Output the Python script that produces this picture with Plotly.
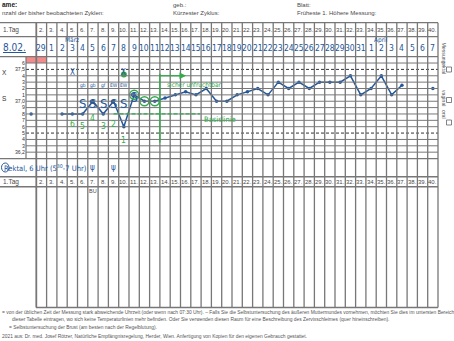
import plotly.graph_objects as go

W, H = 454, 341

# ---------------- data ----------------
days = list(range(1, 41))
# basal body temperature per cycle day (°C); None = no reading
temps = [36.8, None, None, 36.8, 36.8, 36.8, 37.0, 36.8, 37.0, 36.6,
         37.1, 37.0, 37.0, 37.05, 37.1, 37.15, 37.1, 37.2, 37.0, 37.0,
         37.1, 37.15, 37.2, 37.1, 37.3, 37.2, 37.3, 37.2, 37.3, 37.3,
         37.3, 37.4, 37.1, 37.2, 37.4, 37.1, 37.25, None, None, 37.2]

day_labels = ["1.Tag"] + [f"{d}." for d in range(2, 41)]
date_labels = (["8.02.", "29"] + [str(d) for d in range(1, 32)]
               + [str(d) for d in range(1, 8)])
month_labels = {5: "März", 35: "April"}

temp_ticks = [37.6, 37.5, 37.4, 37.3, 37.2, 37.1, 37.0, 36.9, 36.8,
              36.7, 36.6, 36.5, 36.4, 36.3, 36.2]
temp_ticktext = ["6", "37,5", "4", "3", "2", "1", "37,0", "9", "8",
                 "7", "6", "5", "4", "3", "36,2"]

mucus_days = [6, 7, 8, 9, 10, 11]
mucus_notes = ["gb", "gb", "gf", "EW", "EW", ""]
count_days = [5, 6, 7, 8, 9, 10]
count_labels = ["6", "5", "4", "3", "2", "1"]
higher_days = [11, 12, 13]
cross_days = [5, 10]
breast_days = [7, 9]
baseline_temp = 36.8

# ---------------- geometry helpers ----------------
COL0, CW = 26.0, 10.3          # left edge of day-1 column, column width (px)
T_REF, Y_REF, PX_PER_DEG = 37.5, 69.4, 63.67


def dx(p):   # pixel x -> day axis
    return 0.5 + (p - COL0) / CW


def py(p):   # pixel y -> paper
    return 1 - p / H


def pxp(p):  # pixel x -> paper
    return p / W


x_range = [dx(0), dx(W)]
y_range = [T_REF - (H - Y_REF) / PX_PER_DEG, T_REF + Y_REF / PX_PER_DEG]
RIGHT = COL0 + 40 * CW

GRID = "#777777"
INK = "#24579b"
GREEN = "#33aa4c"
PRINT = "#4a4a4a"
HAND = "Liberation Sans Narrow, DejaVu Sans Condensed, Arial Narrow, sans-serif"
SANS = "Liberation Sans, Arial, sans-serif"

fig = go.Figure()

shapes = []


def pline(x0, y0, x1, y1, color=GRID, width=1.1, dash=None):
    shapes.append(dict(type="line", xref="paper", yref="paper",
                       x0=pxp(x0), y0=py(y0), x1=pxp(x1), y1=py(y1),
                       line=dict(color=color, width=width, dash=dash)))


# pink field in the top temperature row (days 1-2)
shapes.append(dict(type="rect", xref="x", yref="y", x0=0.5, x1=2.5,
                   y0=37.6, y1=37.7, fillcolor="rgba(240,110,110,0.8)",
                   line=dict(width=0), layer="below"))

# header rows
for yy in (22.7, 36.7):
    pline(0, yy, RIGHT, yy, width=1.2)
# temperature rows
t = 36.1
while t <= 37.71:
    tt = round(t, 1)
    if tt in (37.5, 36.5):
        shapes.append(dict(type="line", xref="x", yref="y", x0=0.5, x1=40.5,
                           y0=tt, y1=tt,
                           line=dict(color="#333", width=1, dash="3px,2px")))
    else:
        x0 = dx(0) if tt in (37.7, 36.1) else 0.5
        shapes.append(dict(type="line", xref="x", yref="y", x0=x0, x1=40.5,
                           y0=tt, y1=tt,
                           line=dict(color=GRID, width=1.3 if tt in (37.7, 36.1) else 1.0)))
    t += 0.1

# lower table
for yy in (176.7, 186.7):
    pline(0, yy, RIGHT, yy, width=1.5)
pline(36, 307.5, RIGHT, 307.5, width=1.6)

# column dividers
for k in range(0, 41):
    xk = 0.5 + k
    if k == 0:
        shapes.append(dict(type="line", xref="x", yref="y", x0=xk, x1=xk,
                           y0=36.1, y1=37.7, line=dict(color=GRID, width=1.2)))
        continue
    shapes.append(dict(type="line", xref="x", yref="paper", x0=xk, x1=xk,
                       y0=py(307.5), y1=py(22.7),
                       line=dict(color=GRID, width=1.8 if k == 1 else 1.3)))

# checkboxes on the right margin
for cy in (69.5, 100, 122.5):
    shapes.append(dict(type="rect", xref="paper", yref="paper",
                       x0=pxp(446.5), x1=pxp(451.5), y0=py(cy + 2.5), y1=py(cy - 2.5),
                       line=dict(color="#666", width=0.8)))

# green markings: baseline, separator and arrow
shapes.append(dict(type="line", xref="x", yref="y", x0=9, x1=dx(200),
                   y0=baseline_temp, y1=baseline_temp,
                   line=dict(color=GREEN, width=1.3, dash="4px,2px")))
shapes.append(dict(type="line", xref="x", yref="y", x0=13.5, x1=13.5,
                   y0=36.35, y1=37.43, line=dict(color=GREEN, width=1.4)))
shapes.append(dict(type="line", xref="x", yref="y", x0=13.5, x1=dx(183),
                   y0=37.4, y1=37.4, line=dict(color=GREEN, width=1.3)))
# circle mark in the "Rektal" row
shapes.append(dict(type="circle", xref="paper", yref="paper",
                   x0=pxp(1.5), x1=pxp(9), y0=py(172), y1=py(163),
                   line=dict(color=INK, width=1)))

# ---------------- traces ----------------
fig.add_trace(go.Scatter(
    x=days, y=temps, mode="lines+markers", connectgaps=False,
    line=dict(color=INK, width=1.5), marker=dict(color=INK, size=3.5),
    hoverinfo="skip"))

fig.add_trace(go.Scatter(
    x=higher_days, y=[temps[d - 1] for d in higher_days], mode="markers",
    marker=dict(symbol="circle-open", size=9, color=GREEN,
                line=dict(color=GREEN, width=1.5)),
    hoverinfo="skip"))

fig.add_trace(go.Scatter(
    x=[cross_days[1]], y=[37.42], mode="markers",
    marker=dict(color=GREEN, size=6), hoverinfo="skip"))

# ---------------- text ----------------
ann = []


def ptext(x, y, text, size=6, color=PRINT, family=SANS, anchor="left", **kw):
    ann.append(dict(xref="paper", yref="paper", x=pxp(x), y=py(y), text=text,
                    showarrow=False, xanchor=anchor, yanchor="middle",
                    font=dict(size=size, color=color, family=family), **kw))


ptext(0, 5, "<b>ame:</b>", size=6.5, color="#222")
ptext(0, 13.5, "nzahl der bisher beobachteten Zyklen:", size=6)
ptext(171, 5, "geb.:", size=6)
ptext(171, 13.5, "Kürzester Zyklus:", size=6)
ptext(295, 5, "Blatt:", size=6)
ptext(295, 13.5, "Früheste 1. Höhere Messung:", size=6)

# day numbers, header and lower table
for i, lab in enumerate(day_labels):
    if i == 0:
        ptext(1, 30, lab, size=6.5)
        ptext(1, 181.7, lab, size=6.5)
    else:
        for yy in (30, 181.7):
            ann.append(dict(xref="x", yref="paper", x=days[i], y=py(yy), text=lab,
                            showarrow=False, xanchor="center", yanchor="middle",
                            font=dict(size=6.0, color=PRINT, family=SANS)))

# handwritten dates
for i, lab in enumerate(date_labels):
    if i == 0:
        ptext(1, 48, "<u>" + lab + "</u>", size=10, color=INK, family=HAND)
    else:
        ann.append(dict(xref="x", yref="paper", x=days[i], y=py(48.5), text=lab,
                        showarrow=False, xanchor="center", yanchor="middle",
                        font=dict(size=8.5, color=INK, family=HAND)))
for d, m in month_labels.items():
    ann.append(dict(xref="x", yref="paper", x=d, y=py(39.8), text=m,
                    showarrow=False, xanchor="center", yanchor="middle",
                    font=dict(size=6.5, color=INK, family=HAND)))

# crosses for deviating measurement time
for d in cross_days:
    ann.append(dict(xref="x", yref="paper", x=d, y=py(65.5), text="X",
                    showarrow=False, font=dict(size=8, color=INK, family=HAND)))

# cervical mucus observations
for d, note in zip(mucus_days, mucus_notes):
    big = note == ""
    ann.append(dict(xref="x", yref="paper", x=d, y=py(87 if big else 94), text="S",
                    showarrow=False, font=dict(size=14 if big else 13, color=INK, family=HAND)))
    if note:
        ann.append(dict(xref="x", yref="paper", x=d, y=py(80), text=note,
                        showarrow=False, font=dict(size=5, color=INK, family=HAND)))

# counting of low values before the rise
count_shift = [-7, -9, -14, -9, -20, -10]
for d, lab, sh in zip(count_days, count_labels, count_shift):
    ann.append(dict(xref="x", yref="y", x=d, y=temps[d - 1], yshift=sh - 3,
                    text=lab, showarrow=False,
                    font=dict(size=8.5, color=GREEN, family=HAND)))

ann.append(dict(xref="paper", yref="y", x=pxp(194), y=37.25, text="sicher unfruchtbar",
                showarrow=False, font=dict(size=6.5, color=GREEN, family=HAND)))
ann.append(dict(xref="paper", yref="y", x=pxp(220), y=36.72, text="Basislinie",
                showarrow=False, font=dict(size=7.5, color=GREEN, family=HAND)))
# arrow head
ann.append(dict(xref="x", yref="y", x=dx(186), y=37.4, ax=dx(180), ay=37.4,
                axref="x", ayref="y", text="", showarrow=True, arrowhead=2,
                arrowsize=1, arrowwidth=1.3, arrowcolor=GREEN))

# left-edge letters
ptext(0, 72, "X", size=6.5, color="#333")
ptext(0, 99, "S", size=6.5, color="#333")

# measurement method row
ptext(2, 168, "Rektal, 6 Uhr (5<sup>30</sup>-7 Uhr)", size=7.5, color=INK, family=HAND)
for d in breast_days:
    ann.append(dict(xref="x", yref="paper", x=d, y=py(167.5), text="ψ",
                    showarrow=False, font=dict(size=8, color=INK, family=HAND)))
ann.append(dict(xref="x", yref="paper", x=7, y=py(191), text="BU",
                showarrow=False, font=dict(size=5.5, color=PRINT, family=SANS)))

# right margin: measurement method
for yy, lab in ((40, "Messung"), (59, "rektal"), (88, "vaginal"), (114, "oral")):
    ann.append(dict(xref="paper", yref="paper", x=pxp(449), y=py(yy), text=lab,
                    textangle=90, showarrow=False,
                    font=dict(size=5.2, color="#555", family=SANS)))

# footnotes
ptext(0, 312.5, "= von der üblichen Zeit der Messung stark abweichende Uhrzeit (oder wenn nach 07:30 Uhr). – "
      "Falls Sie die Selbstuntersuchung des äußeren Muttermundes vornehmen, möchten Sie dies im untersten Bereich",
      size=4.9, color="#555")
ptext(10, 319.5, "dieser Tabelle eintragen, wo sich keine Temperaturlinien mehr befinden. Oder Sie verwenden "
      "diesen Raum für eine Beschreibung des Zervixschleimes (quer hineinschreiben).",
      size=4.9, color="#555")
ptext(7, 327, "= Selbstuntersuchung der Brust (am besten nach der Regelblutung).", size=4.9, color="#555")
ptext(0, 336, "2021 aus: Dr. med. Josef Rötzer, Natürliche Empfängnisregelung, Herder, Wien. "
      "Anfertigung von Kopien für den eigenen Gebrauch gestattet.", size=4.9, color="#555")

fig.update_layout(
    width=W, height=H, margin=dict(l=0, r=0, t=0, b=0),
    paper_bgcolor="white", plot_bgcolor="rgba(0,0,0,0)", showlegend=False,
    shapes=shapes, annotations=ann,
    xaxis=dict(range=x_range, visible=False, fixedrange=True),
    yaxis=dict(range=y_range, showgrid=False, zeroline=False, showline=False,
               tickmode="array", tickvals=temp_ticks, ticktext=temp_ticktext,
               ticks="", anchor="free", position=pxp(25), automargin=False,
               tickfont=dict(size=5.2, color="#333", family=SANS), fixedrange=True),
)

fig.write_html("out.html")
